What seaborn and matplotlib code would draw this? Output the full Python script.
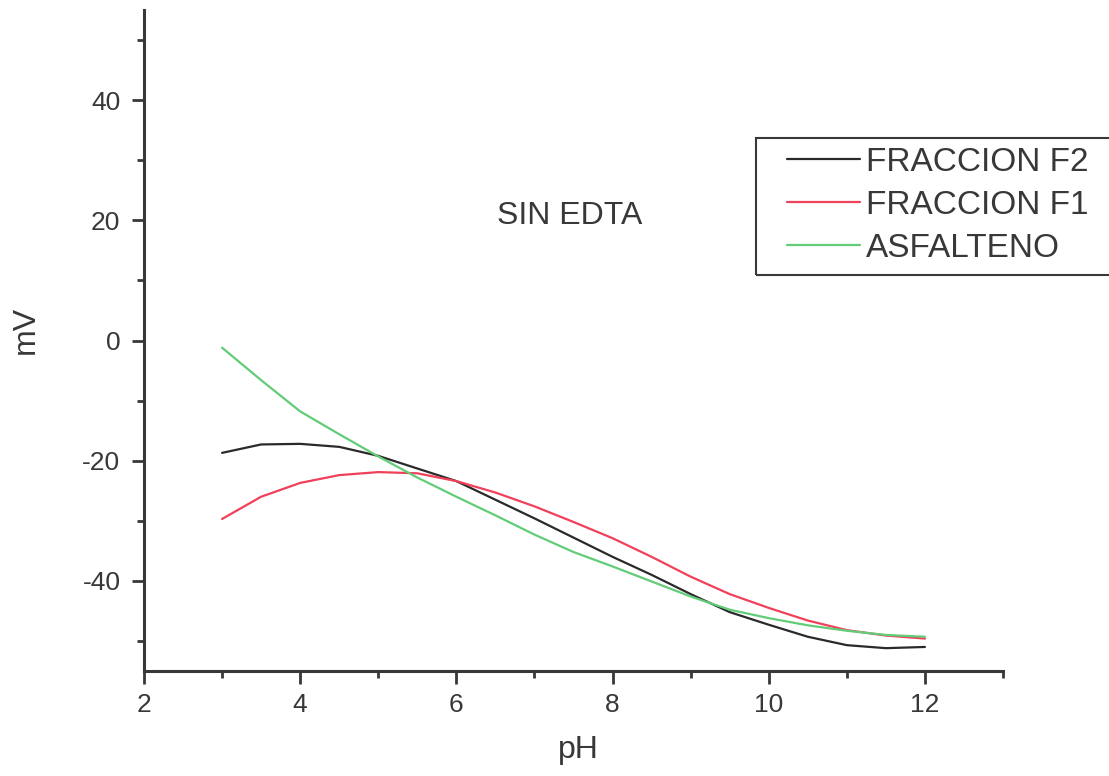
import numpy as np
import pandas as pd
import seaborn as sns
import matplotlib
matplotlib.use("Agg")
import matplotlib.pyplot as plt
from matplotlib.ticker import MultipleLocator
from matplotlib.patches import Rectangle

# pH values where each zeta-potential curve was sampled
ph = [3.0, 3.5, 4.0, 4.5, 5.0, 5.5, 6.0, 6.5, 7.0, 7.5,
      8.0, 8.5, 9.0, 9.5, 10.0, 10.5, 11.0, 11.5, 12.0]

fraccion_f2 = [-18.7, -17.3, -17.2, -17.7, -19.2, -21.3, -23.4, -26.5, -29.6, -32.8,
               -36.0, -39.0, -42.2, -45.2, -47.3, -49.3, -50.7, -51.2, -51.0]
fraccion_f1 = [-29.7, -26.0, -23.7, -22.4, -21.9, -22.1, -23.4, -25.3, -27.6, -30.2,
               -32.9, -36.0, -39.3, -42.2, -44.5, -46.6, -48.2, -49.1, -49.6]
asfalteno = [-1.2, -6.6, -11.8, -15.6, -19.3, -22.8, -26.0, -29.1, -32.3, -35.2,
             -37.6, -40.1, -42.6, -44.8, -46.2, -47.4, -48.3, -49.0, -49.3]

series_names = ["FRACCION F2", "FRACCION F1", "ASFALTENO"]
series_colors = ["#2a2a2a", "#f0405a", "#62cc78"]

df = pd.concat([
    pd.DataFrame({"pH": ph, "mV": vals, "serie": name})
    for name, vals in zip(series_names, [fraccion_f2, fraccion_f1, asfalteno])
], ignore_index=True)

sns.set_style("ticks")
plt.rcParams["font.family"] = ["Liberation Sans", "DejaVu Sans"]
plt.rcParams["axes.unicode_minus"] = False
ink = "#383838"

W, H = 1109, 776
fig = plt.figure(figsize=(W / 100, H / 100), dpi=100)
ax = fig.add_axes([144 / W, 1 - 671 / H, (1003 - 144) / W, (671 - 10) / H])

sns.lineplot(data=df, x="pH", y="mV", hue="serie", hue_order=series_names,
             palette=dict(zip(series_names, series_colors)),
             linewidth=1.6, ax=ax, legend=True)

handles, labels = ax.get_legend_handles_labels()
ax.get_legend().remove()

ax.set_xlim(2, 13)
ax.set_ylim(-55, 55)
ax.xaxis.set_major_locator(MultipleLocator(2))
ax.xaxis.set_minor_locator(MultipleLocator(1))
ax.yaxis.set_major_locator(MultipleLocator(20))
ax.yaxis.set_minor_locator(MultipleLocator(10))

for side in ["top", "right"]:
    ax.spines[side].set_visible(False)
for side in ["left", "bottom"]:
    ax.spines[side].set_linewidth(2.2)
    ax.spines[side].set_color(ink)

ax.tick_params(which="major", direction="out", length=9, width=2, color=ink,
               labelsize=19, labelcolor=ink)
ax.tick_params(axis="x", which="major", pad=7)
ax.tick_params(axis="y", which="major", pad=8)
ax.tick_params(which="minor", direction="out", length=5, width=2, color=ink)

ax.set_xlabel("pH", fontsize=23, color=ink)
ax.set_ylabel("mV", fontsize=23, color=ink)
ax.xaxis.set_label_coords((578 - 144) / 859, -(750 - 671) / 661)
ax.xaxis.label.set_va("center")
ax.yaxis.set_label_coords((26 - 144) / 859, (671 - 330) / 661)
ax.yaxis.label.set_va("center")

ax.text(7.45, 20.8, "SIN EDTA", fontsize=23, color=ink, ha="center", va="center")

leg = fig.legend(handles, labels, loc="upper left",
                 bbox_to_anchor=(787 / W, 1 - 147 / H),
                 borderaxespad=0, borderpad=0, frameon=False,
                 fontsize=24, handlelength=2.2, handletextpad=0.18,
                 labelspacing=0.36)
for t in leg.get_texts():
    t.set_color(ink)
for h in leg.legend_handles:
    h.set_linewidth(1.6)

# legend frame, running off the right edge of the figure
fig.patches.append(Rectangle((756 / W, 1 - 275 / H), (1130 - 756) / W, (275 - 138) / H,
                             transform=fig.transFigure, fill=False,
                             edgecolor=ink, linewidth=1.5))

fig.savefig("out.png", dpi=100, facecolor="white")
